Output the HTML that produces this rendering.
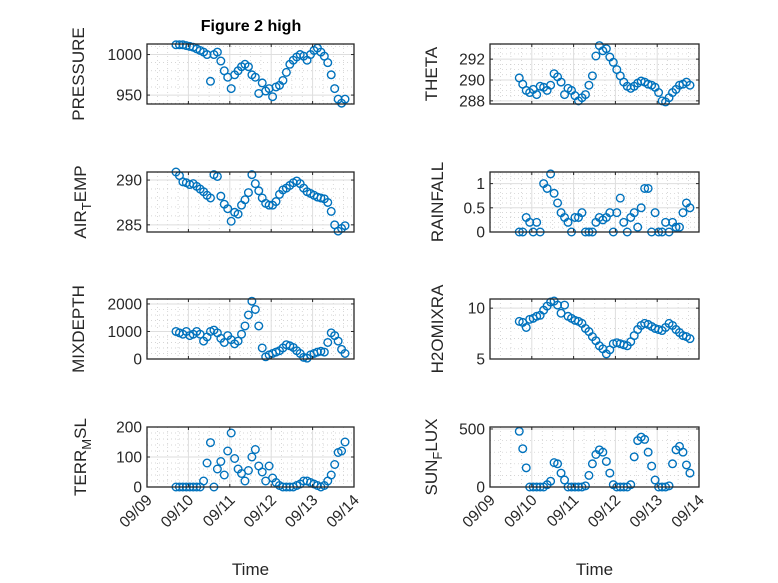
<!DOCTYPE html>
<html><head><meta charset="utf-8"><style>
html,body{margin:0;padding:0;background:#fff;}
svg{display:block;font-family:"Liberation Sans",Arial,sans-serif;}
</style></head><body>
<svg id="fig" width="778" height="583" viewBox="0 0 778 583" xmlns="http://www.w3.org/2000/svg">
<rect x="0" y="0" width="778" height="583" fill="#fff"/>
<text x="251" y="31" text-anchor="middle" font-size="16" font-weight="bold" fill="#000">Figure 2 high</text>
</svg>
<script>
const tStart = 0.7, tStepHours = 2;
const xTickLabels = ["09/09","09/10","09/11","09/12","09/13","09/14"];
const pressure = [1012,1012,1012,1011,1010,1009,1007,1005,1003,1000,967,1000,1003,992,980,972,958,975,980,985,988,985,975,972,952,965,955,958,948,960,962,968,978,988,993,997,1000,998,993,1000,1005,1008,1003,998,990,975,958,945,940,945];
const airTemp = [290.9,290.5,289.8,289.7,289.5,289.6,289.3,289.0,288.7,288.3,288.0,290.6,290.4,288.2,287.3,286.8,285.4,286.4,286.2,287.2,287.8,288.6,290.6,289.6,288.8,288.0,287.4,287.2,287.2,287.6,288.4,288.9,289.1,289.4,289.7,289.9,289.6,289.1,288.7,288.5,288.3,288.1,288.0,287.9,287.5,286.5,285.0,284.3,284.6,284.9];
const mixDepth = [1000,950,900,1000,850,900,1000,900,650,800,1000,1050,950,750,600,850,700,550,650,900,1200,1600,2100,1800,1200,400,80,150,200,250,300,400,520,480,420,300,200,60,30,150,200,250,280,250,600,950,850,650,350,200];
const terrMsl = [0,0,0,0,0,0,0,0,20,80,148,0,60,85,40,120,180,95,60,45,20,55,100,125,70,50,20,70,30,15,5,0,0,0,0,5,10,20,20,15,10,5,0,5,20,40,75,115,120,150];
const theta = [290.2,289.6,289.0,288.8,289.1,288.6,289.4,289.3,289.0,289.5,290.6,290.3,289.8,288.6,289.2,289.0,288.5,288.0,288.3,288.6,289.5,290.4,292.3,293.3,292.8,293.0,292.2,291.7,291.0,290.4,289.8,289.4,289.2,289.4,289.7,289.9,289.8,289.6,289.5,289.3,288.8,288.0,287.9,288.3,288.8,289.1,289.5,289.6,289.8,289.5];
const rainfall = [0,0,0.3,0.2,0,0.2,0,1.0,0.9,1.2,0.8,0.6,0.4,0.3,0.2,0,0.3,0.3,0.4,0,0,0,0.2,0.3,0.25,0.3,0.4,0,0.4,0.7,0.2,0,0.3,0.4,0.1,0.5,0.9,0.9,0,0.4,0,0,0.2,0,0.2,0.1,0.1,0.4,0.6,0.5];
const h2oMix = [8.7,8.6,8.1,8.9,9.0,9.2,9.3,9.8,10.2,10.6,10.7,10.3,9.5,10.3,9.2,9.0,8.8,8.7,8.5,8.0,7.7,7.2,6.8,6.3,6.0,5.5,5.9,6.5,6.6,6.5,6.4,6.3,6.7,7.3,7.9,8.3,8.5,8.4,8.2,8.0,7.9,7.8,8.1,8.5,8.3,7.9,7.6,7.3,7.2,7.0];
const sunFlux = [480,330,165,0,0,0,0,0,20,50,210,200,120,60,0,0,0,0,0,10,100,200,280,320,300,220,120,20,0,0,0,0,20,260,400,430,410,300,180,60,0,0,0,10,200,320,350,300,190,120];

const NS="http://www.w3.org/2000/svg";
const svg=document.getElementById('fig');
function mk(tag,attrs,parent){const e=document.createElementNS(NS,tag);for(const k in attrs)e.setAttribute(k,attrs[k]);(parent||svg).appendChild(e);return e;}

const panels=[
 {key:'pressure',data:pressure,label:['PRESSURE'],x0:147,x1:354,y0:44,ymin:939,ymax:1013,ticks:[950,1000],minor:10,xt:false,lx:84},
 {key:'air-temp',data:airTemp,label:['AIR','T','EMP'],x0:147,x1:354,y0:172,ymin:284.2,ymax:290.9,ticks:[285,290],minor:1,xt:false,lx:86},
 {key:'mixdepth',data:mixDepth,label:['MIXDEPTH'],x0:147,x1:354,y0:299,ymin:0,ymax:2180,ticks:[0,1000,2000],minor:200,xt:false,lx:84},
 {key:'terr-msl',data:terrMsl,label:['TERR','M','SL'],x0:147,x1:354,y0:427,ymin:0,ymax:200,ticks:[0,100,200],minor:20,xt:true,lx:86},
 {key:'theta',data:theta,label:['THETA'],x0:490,x1:699,y0:44,ymin:287.7,ymax:293.45,ticks:[288,290,292],minor:0.5,xt:false,lx:437},
 {key:'rainfall',data:rainfall,label:['RAINFALL'],x0:490,x1:699,y0:172,ymin:0,ymax:1.24,ticks:[0,0.5,1],minor:0.1,xt:false,lx:443},
 {key:'h2omixra',data:h2oMix,label:['H2OMIXRA'],x0:490,x1:699,y0:299,ymin:5,ymax:10.9,ticks:[5,10],minor:1,xt:false,lx:443},
 {key:'sun-flux',data:sunFlux,label:['SUN','F','LUX'],x0:490,x1:699,y0:427,ymin:0,ymax:517,ticks:[0,500],minor:100,xt:true,lx:437}
];
const H=60;
panels.forEach(p=>{
  const g=mk('g',{});
  
  
  const xs=t=>p.x0+(t/5)*(p.x1-p.x0);
  const ys=v=>p.y0+H-(v-p.ymin)/(p.ymax-p.ymin)*H;
  for(let t=0.25;t<5;t+=0.25){ if(Math.abs(t-Math.round(t))<1e-6)continue;
    mk('line',{x1:xs(t),x2:xs(t),y1:p.y0,y2:p.y0+H,stroke:'#c8c8c8','stroke-width':0.7,'stroke-dasharray':'1 3'},g);}
  const m0=Math.ceil(p.ymin/p.minor)*p.minor;
  for(let v=m0;v<=p.ymax+1e-9;v+=p.minor){ if(p.ticks.some(tk=>Math.abs(tk-v)<1e-6))continue;
    mk('line',{x1:p.x0,x2:p.x1,y1:ys(v),y2:ys(v),stroke:'#c8c8c8','stroke-width':0.7,'stroke-dasharray':'1 3'},g);}
  for(let d=1;d<5;d++) mk('line',{x1:xs(d),x2:xs(d),y1:p.y0,y2:p.y0+H,stroke:'#dedede','stroke-width':1},g);
  p.ticks.forEach(v=>{ mk('line',{x1:p.x0,x2:p.x1,y1:ys(v),y2:ys(v),stroke:'#dedede','stroke-width':1},g);});
  p.data.forEach((v,i)=>{
    const t=tStart+i*tStepHours/24;
    const c=mk('circle',{cx:xs(t),cy:ys(v),r:3.8,fill:'none',stroke:'#0072BD','stroke-width':1.4},g);
    
    
  });
  const b=mk('rect',{x:p.x0,y:p.y0,width:p.x1-p.x0,height:H,fill:'none',stroke:'#262626','stroke-width':1.3},g);
  
  
  for(let d=0;d<=5;d++){const x=xs(d);
    mk('line',{x1:x,x2:x,y1:p.y0+H,y2:p.y0+H-3,stroke:'#262626'},g);
    mk('line',{x1:x,x2:x,y1:p.y0,y2:p.y0+3,stroke:'#262626'},g);
    if(p.xt){const tx=mk('text',{x:0,y:0,'font-size':15.5,fill:'#262626','text-anchor':'end',transform:`translate(${x+6},${p.y0+H+14}) rotate(-45)`},g);
      tx.textContent=xTickLabels[d];
      
      }
  }
  p.ticks.forEach(v=>{const y=ys(v);
    mk('line',{x1:p.x0,x2:p.x0+3,y1:y,y2:y,stroke:'#262626'},g);
    mk('line',{x1:p.x1,x2:p.x1-3,y1:y,y2:y,stroke:'#262626'},g);
    const tx=mk('text',{x:p.x0-5,y:y+5.5,'font-size':15.5,fill:'#262626','text-anchor':'end'},g);
    tx.textContent=String(v);
    
    
  });
  const cy=p.y0+H/2;
  const yl=mk('text',{x:0,y:0,'font-size':17,fill:'#262626','text-anchor':'middle',transform:`translate(${p.lx},${cy}) rotate(-90)`},g);
  
  
  if(p.label.length===1){yl.textContent=p.label[0];}
  else{
    const a=mk('tspan',{},yl);a.textContent=p.label[0];
    const s=mk('tspan',{dy:5,'font-size':13},yl);s.textContent=p.label[1];
    const c=mk('tspan',{dy:-5},yl);c.textContent=p.label[2];
  }
  if(p.xt){
    const xl=mk('text',{x:(p.x0+p.x1)/2,y:575,'font-size':17,fill:'#262626','text-anchor':'middle'},g);
    xl.textContent='Time';
    
    
  }
});
</script>
</body></html>
